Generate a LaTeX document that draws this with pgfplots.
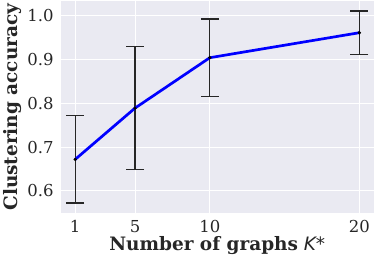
\documentclass[border=0pt]{standalone}
\usepackage{pgfplots}
\pgfplotsset{compat=1.18}
\usepackage{fontspec}
\setmainfont{DejaVu Serif}
\newfontfamily\dvs{DejaVu Sans}
\definecolor{sbbg}{HTML}{EAEAF2}
\begin{document}
\begin{tikzpicture}
\begin{axis}[
  scale only axis,
  width=313pt, height=212pt,
  xmin=0.05, xmax=20.95,
  ymin=0.550, ymax=1.033,
  xtick={1,5,10,20},
  ytick={0.6,0.7,0.8,0.9,1.0},
  /pgf/number format/assume math mode=true,
  ticklabel style={font=\fontsize{16.5}{19}\selectfont, text=black!85},
  yticklabel style={xshift=-4pt, /pgf/number format/.cd,fixed,fixed zerofill,precision=1},
  xticklabel style={yshift=-4pt},
  axis background/.style={fill=sbbg},
  axis line style={draw=none},
  major tick style={draw=none},
  grid=major,
  major grid style={white, line width=1pt},
  xlabel={\textbf{Number of graphs} {\dvs\itshape K}{\dvs*}},
  ylabel={\textbf{Clustering accuracy}},
  label style={font=\fontsize{18.5}{21}\selectfont, text=black!85},
  xlabel style={yshift=3pt},
  ylabel style={yshift=-1pt},
]
\addplot[draw=none, mark=none,
  error bars/.cd, y dir=both, y explicit,
  error bar style={black!85, line width=1.4pt},
  error mark options={rotate=90, black!85, mark size=9pt, line width=1.4pt}]
  coordinates {
  (1,0.672) +- (0,0.100)
  (5,0.789) +- (0,0.140)
  (10,0.904) +- (0,0.088)
  (20,0.961) +- (0,0.050)
};
\addplot[blue, line width=2.7pt, mark=none] coordinates {
  (1,0.672) (5,0.789) (10,0.904) (20,0.961)
};
\addplot[only marks, mark=*, mark size=1.5pt, black] coordinates {
  (1,0.672) (5,0.789) (10,0.904) (20,0.961)
};
\end{axis}
\end{tikzpicture}
\end{document}
